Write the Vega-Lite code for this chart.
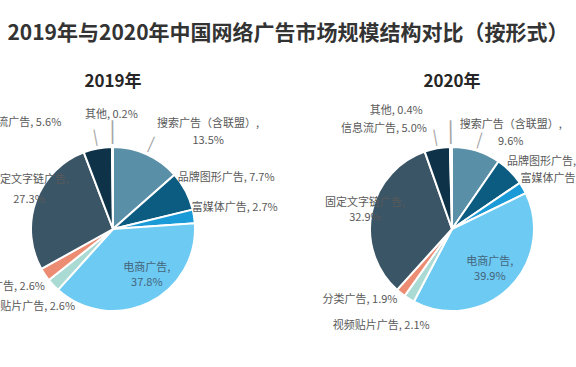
{
  "$schema": "https://vega.github.io/schema/vega-lite/v6.json",
  "autosize": "none",
  "width": 576,
  "height": 276,
  "padding": {"left": 0, "top": 91, "right": 0, "bottom": 0},
  "background": "white",
  "title": {"text": "2019年与2020年中国网络广告市场规模结构对比（按形式）", "font": "Noto Sans CJK SC", "fontSize": 21, "fontWeight": "bold", "color": "#333333", "anchor": "middle", "offset": 29},
  "config": {"view": {"stroke": null}, "text": {"font": "Noto Sans CJK SC", "fontSize": 11, "color": "#595959"}},
  "data": {"values": [
      {"year": "2019", "name": "搜索广告（含联盟）", "value": 13.5},
      {"year": "2019", "name": "品牌图形广告", "value": 7.7},
      {"year": "2019", "name": "富媒体广告", "value": 2.7},
      {"year": "2019", "name": "电商广告", "value": 37.8},
      {"year": "2019", "name": "视频贴片广告", "value": 2.6},
      {"year": "2019", "name": "分类广告", "value": 2.6},
      {"year": "2019", "name": "固定文字链广告", "value": 27.3},
      {"year": "2019", "name": "信息流广告", "value": 5.6},
      {"year": "2019", "name": "其他", "value": 0.2},
      {"year": "2020", "name": "搜索广告（含联盟）", "value": 9.6},
      {"year": "2020", "name": "品牌图形广告", "value": 5.9},
      {"year": "2020", "name": "富媒体广告", "value": 2.3},
      {"year": "2020", "name": "电商广告", "value": 39.9},
      {"year": "2020", "name": "视频贴片广告", "value": 2.1},
      {"year": "2020", "name": "分类广告", "value": 1.9},
      {"year": "2020", "name": "固定文字链广告", "value": 32.9},
      {"year": "2020", "name": "信息流广告", "value": 5.0},
      {"year": "2020", "name": "其他", "value": 0.4}
  ]},
  "transform": [
    {"window": [{"op": "row_number", "as": "idx"}]},
    {"stack": "value", "groupby": ["year"], "sort": [{"field": "idx"}], "as": ["v0", "v1"]},
    {"calculate": "(datum.v0 + datum.v1) / 2", "as": "mid"},
    {"calculate": "datum.mid * 3.6", "as": "deg"},
    {"calculate": "datum.year + '|' + datum.name", "as": "key"},
    {"calculate": "indexof(['搜索广告（含联盟）','电商广告','固定文字链广告'], datum.name) >= 0 ? datum.name + ',\\n' + format(datum.value, '.1f') + '%' : datum.name + ', ' + format(datum.value, '.1f') + '%'", "as": "label"}
  ],
  "encoding": {
    "x": {"field": "year", "type": "nominal", "axis": null, "scale": {"type": "point", "domain": ["2019", "2020"], "range": [113, 452], "padding": 0}}
  },
  "layer": [
    {"mark": {"type": "arc", "outerRadius": 82, "stroke": "white", "strokeWidth": 2},
     "encoding": {
       "theta": {"field": "v0", "type": "quantitative", "scale": {"domain": [0, 100]}},
       "theta2": {"field": "v1"},
       "color": {"field": "name", "type": "nominal", "legend": null,
         "scale": {"domain": ["搜索广告（含联盟）","品牌图形广告","富媒体广告","电商广告","视频贴片广告","分类广告","固定文字链广告","信息流广告","其他"],
                   "range": ["#5a8fa8","#0b5c80","#1a9ad6","#6dcaf2","#a9dad3","#ec8c73","#3a5566","#0e3349","#9aa8b0"]}}
     }},
    {"transform": [{"filter": "datum.name == '其他'"}, {"calculate": "'│'", "as": "bar"}],
     "mark": {"type": "text", "radius": 96, "align": "center", "baseline": "middle", "font": "DejaVu Sans", "fontSize": 20, "color": "#a6a6a6"},
     "encoding": {"theta": {"field": "mid", "type": "quantitative"}, "angle": {"field": "deg", "type": "quantitative", "scale": null}, "text": {"field": "bar"}}},
    {"transform": [{"filter": "datum.name == '信息流广告' || datum.name == '搜索广告（含联盟）'"}, {"calculate": "'│'", "as": "bar"}],
     "mark": {"type": "text", "radius": 92, "align": "center", "baseline": "middle", "font": "DejaVu Sans", "fontSize": 14, "color": "#a6a6a6"},
     "encoding": {"theta": {"field": "mid", "type": "quantitative"}, "angle": {"field": "deg", "type": "quantitative", "scale": null}, "text": {"field": "bar"}}},
    {"transform": [{"filter": "datum.name == '其他'"}, {"calculate": "datum.year + '年'", "as": "ylabel"}],
     "mark": {"type": "text", "theta": 0, "radius": 147, "align": "center", "baseline": "middle", "font": "Noto Sans CJK SC", "fontSize": 17, "fontWeight": "bold", "color": "#262626"},
     "encoding": {"text": {"field": "ylabel"}}},

    {"transform": [{"filter": "datum.key == '2019|其他'"}], "mark": {"type": "text", "radius": 100, "align": "center", "baseline": "middle", "dx": -1, "dy": -14}, "encoding": {"theta": {"field": "mid", "type": "quantitative"}, "text": {"field": "label"}}},
    {"transform": [{"filter": "datum.key == '2019|搜索广告（含联盟）'"}], "mark": {"type": "text", "radius": 100, "align": "center", "baseline": "middle", "dx": 54, "dy": -14, "lineBreak": "\n", "lineHeight": 17}, "encoding": {"theta": {"field": "mid", "type": "quantitative"}, "text": {"field": "label"}}},
    {"transform": [{"filter": "datum.key == '2019|品牌图形广告'"}], "mark": {"type": "text", "radius": 100, "align": "left", "baseline": "middle", "dx": -24, "dy": -5}, "encoding": {"theta": {"field": "mid", "type": "quantitative"}, "text": {"field": "label"}}},
    {"transform": [{"filter": "datum.key == '2019|富媒体广告'"}], "mark": {"type": "text", "radius": 100, "align": "left", "baseline": "middle", "dx": -20, "dy": -6}, "encoding": {"theta": {"field": "mid", "type": "quantitative"}, "text": {"field": "label"}}},
    {"transform": [{"filter": "datum.key == '2019|电商广告'"}], "mark": {"type": "text", "radius": 50, "align": "center", "baseline": "middle", "dx": 12, "dy": -6, "lineBreak": "\n", "lineHeight": 15, "color": "#44647a"}, "encoding": {"theta": {"field": "mid", "type": "quantitative"}, "text": {"field": "label"}}},
    {"transform": [{"filter": "datum.key == '2019|视频贴片广告'"}], "mark": {"type": "text", "radius": 100, "align": "right", "baseline": "middle", "dx": 35, "dy": 10}, "encoding": {"theta": {"field": "mid", "type": "quantitative"}, "text": {"field": "label"}}},
    {"transform": [{"filter": "datum.key == '2019|分类广告'"}], "mark": {"type": "text", "radius": 100, "align": "right", "baseline": "middle", "dx": 15, "dy": 2}, "encoding": {"theta": {"field": "mid", "type": "quantitative"}, "text": {"field": "label"}}},
    {"transform": [{"filter": "datum.key == '2019|固定文字链广告'"}], "mark": {"type": "text", "radius": 100, "align": "center", "baseline": "middle", "dx": 10, "dy": -15, "lineBreak": "\n", "lineHeight": 20}, "encoding": {"theta": {"field": "mid", "type": "quantitative"}, "text": {"field": "label"}}},
    {"transform": [{"filter": "datum.key == '2019|信息流广告'"}], "mark": {"type": "text", "radius": 100, "align": "right", "baseline": "middle", "dx": -33, "dy": -8}, "encoding": {"theta": {"field": "mid", "type": "quantitative"}, "text": {"field": "label"}}},

    {"transform": [{"filter": "datum.key == '2020|其他'"}], "mark": {"type": "text", "radius": 100, "align": "right", "baseline": "middle", "dx": -28, "dy": -18}, "encoding": {"theta": {"field": "mid", "type": "quantitative"}, "text": {"field": "label"}}},
    {"transform": [{"filter": "datum.key == '2020|信息流广告'"}], "mark": {"type": "text", "radius": 100, "align": "right", "baseline": "middle", "dx": -7, "dy": -2}, "encoding": {"theta": {"field": "mid", "type": "quantitative"}, "text": {"field": "label"}}},
    {"transform": [{"filter": "datum.key == '2020|搜索广告（含联盟）'"}], "mark": {"type": "text", "radius": 100, "align": "center", "baseline": "middle", "dx": 29, "dy": -9, "lineBreak": "\n", "lineHeight": 17}, "encoding": {"theta": {"field": "mid", "type": "quantitative"}, "text": {"field": "label"}}},
    {"transform": [{"filter": "datum.key == '2020|品牌图形广告'"}], "mark": {"type": "text", "radius": 100, "align": "left", "baseline": "middle", "dx": -16, "dy": 3}, "encoding": {"theta": {"field": "mid", "type": "quantitative"}, "text": {"field": "label"}}},
    {"transform": [{"filter": "datum.key == '2020|富媒体广告'"}], "mark": {"type": "text", "radius": 100, "align": "left", "baseline": "middle", "dx": -18, "dy": 0}, "encoding": {"theta": {"field": "mid", "type": "quantitative"}, "text": {"field": "label"}}},
    {"transform": [{"filter": "datum.key == '2020|电商广告'"}], "mark": {"type": "text", "radius": 50, "align": "center", "baseline": "middle", "dx": 3, "dy": -3, "lineBreak": "\n", "lineHeight": 15, "color": "#44647a"}, "encoding": {"theta": {"field": "mid", "type": "quantitative"}, "text": {"field": "label"}}},
    {"transform": [{"filter": "datum.key == '2020|视频贴片广告'"}], "mark": {"type": "text", "radius": 100, "align": "right", "baseline": "middle", "dx": 30, "dy": 12}, "encoding": {"theta": {"field": "mid", "type": "quantitative"}, "text": {"field": "label"}}},
    {"transform": [{"filter": "datum.key == '2020|分类广告'"}], "mark": {"type": "text", "radius": 100, "align": "right", "baseline": "middle", "dx": 8, "dy": -7}, "encoding": {"theta": {"field": "mid", "type": "quantitative"}, "text": {"field": "label"}}},
    {"transform": [{"filter": "datum.key == '2020|固定文字链广告'"}], "mark": {"type": "text", "radius": 100, "align": "center", "baseline": "middle", "dx": 11, "dy": -6, "lineBreak": "\n", "lineHeight": 15}, "encoding": {"theta": {"field": "mid", "type": "quantitative"}, "text": {"field": "label"}}}
  ]
}
